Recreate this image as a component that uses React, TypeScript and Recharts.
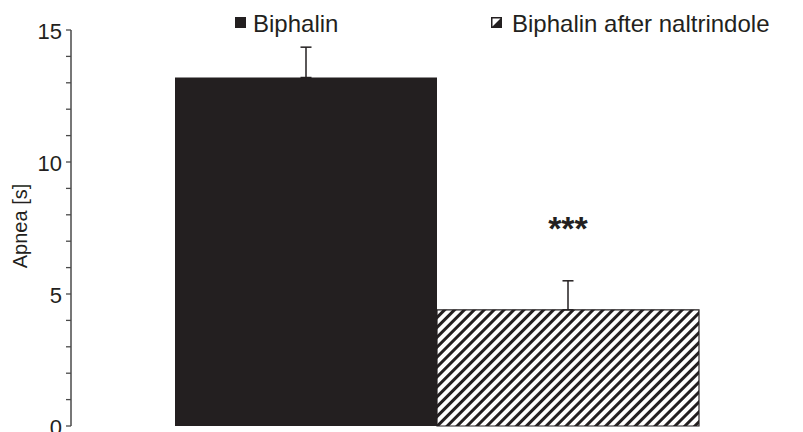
import React from "react";
import {
  BarChart,
  Bar,
  XAxis,
  YAxis,
  ErrorBar,
  Legend,
  LabelList,
  Label,
} from "recharts";

// apnea duration (s), mean and SEM per treatment
const groups = ["Apnea"];
const biphalin = [13.2];
const biphalinSem = [1.15];
const afterNaltrindole = [4.4];
const afterNaltrindoleSem = [1.1];
const significance = ["***"];

const yTicks = [0, 1, 2, 3, 4, 5, 6, 7, 8, 9, 10, 11, 12, 13, 14, 15];
const labelledTicks = [0, 5, 10, 15];

const data = groups.map((g, i) => ({
  group: g,
  biphalin: biphalin[i],
  biphalinErr: [0, biphalinSem[i]],
  after: afterNaltrindole[i],
  afterErr: [0, afterNaltrindoleSem[i]],
  stars: significance[i],
}));

const INK = "#231f20";
const FONT = "'Liberation Sans', Arial, Helvetica, sans-serif";

const YTick = ({ x, y, payload }: any) => {
  if (!labelledTicks.includes(payload.value)) return null;
  return (
    <text
      x={x}
      y={y}
      dy={9}
      textAnchor="end"
      fontSize={22}
      fontFamily={FONT}
      fill={INK}
    >
      {payload.value}
    </text>
  );
};

const AxisTitle = ({ viewBox }: any) => {
  const cx = viewBox.x + 27;
  const cy = viewBox.y + viewBox.height / 2 - 2;
  return (
    <text
      x={cx}
      y={cy}
      transform={`rotate(-90, ${cx}, ${cy})`}
      textAnchor="middle"
      fontSize={20}
      fontFamily={FONT}
      fill={INK}
    >
      Apnea [s]
    </text>
  );
};

const Stars = ({ x, y, width, value }: any) => (
  <text
    x={x + width / 2}
    y={y - 70}
    textAnchor="middle"
    fontSize={34}
    fontWeight="bold"
    fontFamily={FONT}
    fill={INK}
  >
    {value}
  </text>
);

const legendPos = [235, 491];

const LegendBox = ({ payload }: any) => (
  <div style={{ position: "relative", height: 0, fontFamily: FONT, color: INK }}>
    {(payload || []).map((entry: any, i: number) => (
      <div key={entry.value} style={{ position: "absolute", left: legendPos[i], top: 0 }}>
        <svg
          width={11}
          height={11}
          style={{ position: "absolute", left: 0, top: 17 }}
        >
          {i === 0 ? (
            <rect x={0} y={0} width={11} height={11} fill={INK} />
          ) : (
            <>
              <rect x={0.75} y={0.75} width={9.5} height={9.5} fill="#fff" stroke={INK} strokeWidth={1.5} />
              <polygon points="1,10 10,1 10,10" fill={INK} />
            </>
          )}
        </svg>
        <span
          style={{
            position: "absolute",
            left: i === 0 ? 18 : 21,
            top: 10,
            fontSize: 24,
            lineHeight: "28px",
            whiteSpace: "nowrap",
          }}
        >
          {entry.value}
        </span>
      </div>
    ))}
  </div>
);

export default function App() {
  return (
    <div style={{ position: "fixed", left: 0, top: 0, background: "#fff" }}>
      <BarChart
        width={803}
        height={432}
        data={data}
        margin={{ top: 30, right: 0, bottom: 6, left: 0 }}
        barCategoryGap={104}
        barGap={0}
      >
        <defs>
          <pattern
            id="hatch"
            patternUnits="userSpaceOnUse"
            width={7}
            height={7}
            patternTransform="rotate(45)"
          >
            <rect width={7} height={7} fill="#fff" />
            <rect x={0} y={0} width={3} height={7} fill={INK} />
          </pattern>
        </defs>
        <XAxis
          dataKey="group"
          tick={false}
          tickLine={false}
          height={0}
          axisLine={{ stroke: "#4a4a4a", strokeWidth: 1.5 }}
        />
        <YAxis
          width={71}
          domain={[0, 15]}
          ticks={yTicks}
          interval={0}
          tickSize={5}
          tickMargin={4}
          tick={<YTick />}
          tickLine={{ stroke: "#4a4a4a", strokeWidth: 1.3 }}
          axisLine={{ stroke: "#4a4a4a", strokeWidth: 1.5 }}
        >
          <Label content={<AxisTitle />} />
        </YAxis>
        <Legend
          verticalAlign="top"
          content={<LegendBox />}
          wrapperStyle={{ top: 0, left: 0, width: 803 }}
        />
        <Bar dataKey="biphalin" name="Biphalin" fill={INK} isAnimationActive={false}>
          <ErrorBar dataKey="biphalinErr" width={5.5} stroke={INK} strokeWidth={1.5} />
        </Bar>
        <Bar
          dataKey="after"
          name="Biphalin after naltrindole"
          fill="url(#hatch)"
          stroke={INK}
          strokeWidth={1.2}
          isAnimationActive={false}
        >
          <ErrorBar dataKey="afterErr" width={5.5} stroke={INK} strokeWidth={1.5} />
          <LabelList dataKey="stars" content={<Stars />} />
        </Bar>
      </BarChart>
    </div>
  );
}
